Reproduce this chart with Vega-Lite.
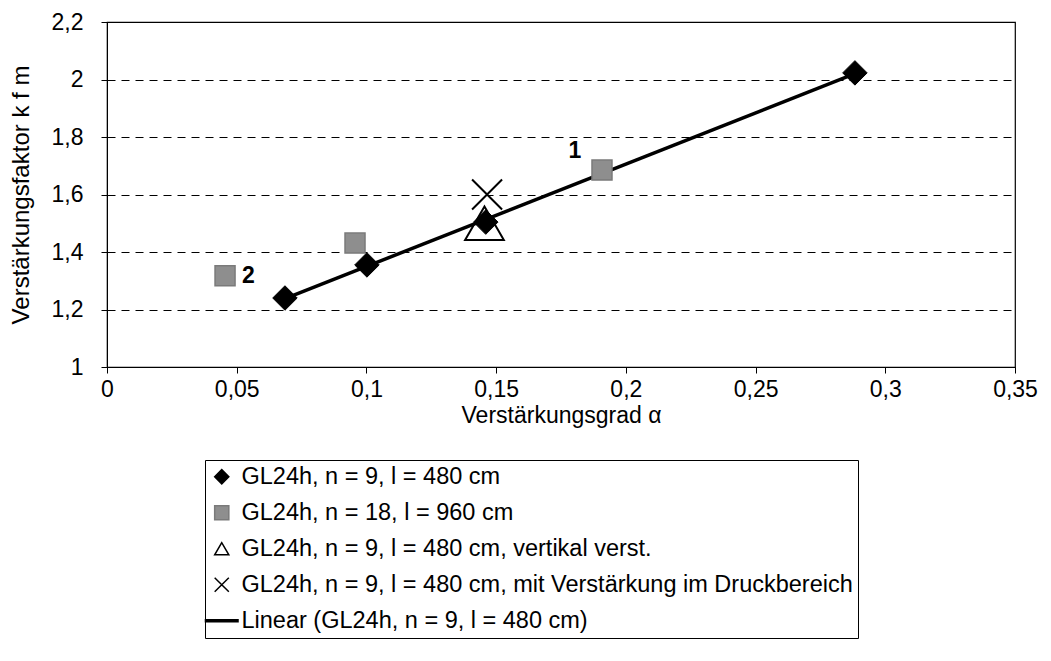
{
  "$schema": "https://vega.github.io/schema/vega-lite/v6.json",
  "width": 908,
  "height": 345,
  "autosize": {"type": "none"},
  "padding": {"left": 107, "top": 22, "right": 36, "bottom": 294},
  "background": "white",
  "config": {
    "font": "Liberation Sans",
    "view": {"stroke": "black", "strokeWidth": 1.2},
    "axis": {
      "domainColor": "black",
      "tickColor": "black",
      "labelColor": "black",
      "titleColor": "black",
      "labelFont": "Liberation Sans",
      "titleFont": "Liberation Sans",
      "labelFontSize": 23,
      "titleFontSize": 23,
      "titleFontWeight": "normal",
      "tickSize": 6
    },
    "legend": {
      "orient": "none",
      "legendX": 98,
      "legendY": 438,
      "direction": "vertical",
      "labelFont": "Liberation Sans",
      "labelFontSize": 23.5,
      "labelColor": "black",
      "labelLimit": 0,
      "symbolSize": 200,
      "symbolStrokeWidth": 1.5,
      "rowPadding": 11,
      "padding": 5,
      "labelOffset": 8,
      "strokeColor": "black",
      "fillColor": "white"
    }
  },
  "datasets": {
    "pts": [
      {"series": "GL24h, n = 9, l = 480 cm", "x": 0.0686, "y": 1.24},
      {"series": "GL24h, n = 9, l = 480 cm", "x": 0.1002, "y": 1.355},
      {"series": "GL24h, n = 9, l = 480 cm", "x": 0.146, "y": 1.504},
      {"series": "GL24h, n = 9, l = 480 cm", "x": 0.2883, "y": 2.023},
      {"series": "GL24h, n = 18, l = 960 cm", "x": 0.0455, "y": 1.317},
      {"series": "GL24h, n = 18, l = 960 cm", "x": 0.0956, "y": 1.431},
      {"series": "GL24h, n = 18, l = 960 cm", "x": 0.1908, "y": 1.685},
      {"series": "GL24h, n = 9, l = 480 cm, vertikal verst.", "x": 0.1455, "y": 1.5},
      {"series": "GL24h, n = 9, l = 480 cm, mit Verstärkung im Druckbereich", "x": 0.1465, "y": 1.6}
    ],
    "labels": [
      {"x": 0.1804, "y": 1.75, "label": "1"},
      {"x": 0.0545, "y": 1.317, "label": "2"}
    ]
  },
  "layer": [
    {
      "data": {"name": "pts"},
      "transform": [
        {"filter": "datum.series == 'GL24h, n = 9, l = 480 cm'"},
        {"regression": "y", "on": "x"}
      ],
      "mark": {"type": "line", "color": "black", "strokeWidth": 3.5},
      "encoding": {
        "x": {
          "field": "x",
          "type": "quantitative",
          "scale": {"domain": [0, 0.35], "nice": false, "zero": false},
          "axis": {
            "title": "Verstärkungsgrad α",
            "values": [0, 0.05, 0.1, 0.15, 0.2, 0.25, 0.3, 0.35],
            "labelExpr": "replace(format(datum.value, '~g'), '.', ',')",
            "grid": false,
            "labelPadding": 5,
            "titlePadding": 3,
            "labelFlush": false
          }
        },
        "y": {
          "field": "y",
          "type": "quantitative",
          "scale": {"domain": [1, 2.2], "nice": false, "zero": false},
          "axis": {
            "title": "Verstärkungsfaktor k f m",
            "titleFontSize": 24,
            "values": [1, 1.2, 1.4, 1.6, 1.8, 2, 2.2],
            "labelExpr": "replace(format(datum.value, '~g'), '.', ',')",
            "grid": true,
            "gridColor": "black",
            "gridDash": [8, 6],
            "gridWidth": 1,
            "gridOpacity": 1,
            "labelPadding": 18,
            "titlePadding": 18,
            "labelFlush": false
          }
        }
      }
    },
    {
      "data": {"name": "pts"},
      "transform": [{"filter": "datum.series == 'GL24h, n = 18, l = 960 cm'"}],
      "mark": {"type": "point", "size": 400, "strokeWidth": 1.5, "opacity": 1},
      "encoding": {
        "x": {"field": "x", "type": "quantitative"},
        "y": {"field": "y", "type": "quantitative"},
        "shape": {
          "field": "series", "type": "nominal",
          "scale": {
            "domain": ["GL24h, n = 9, l = 480 cm", "GL24h, n = 18, l = 960 cm", "GL24h, n = 9, l = 480 cm, vertikal verst.", "GL24h, n = 9, l = 480 cm, mit Verstärkung im Druckbereich", "Linear (GL24h, n = 9, l = 480 cm)"],
            "range": ["diamond", "square", "triangle-up", "M-1,-1L1,1M-1,1L1,-1", "M-2.3,-0.15H2.3V0.15H-2.3Z"]
          },
          "legend": {"title": null}
        },
        "fill": {
          "field": "series", "type": "nominal",
          "scale": {
            "domain": ["GL24h, n = 9, l = 480 cm", "GL24h, n = 18, l = 960 cm", "GL24h, n = 9, l = 480 cm, vertikal verst.", "GL24h, n = 9, l = 480 cm, mit Verstärkung im Druckbereich", "Linear (GL24h, n = 9, l = 480 cm)"],
            "range": ["black", "#8e8e8e", "transparent", "transparent", "black"]
          },
          "legend": {"title": null}
        },
        "stroke": {
          "field": "series", "type": "nominal",
          "scale": {
            "domain": ["GL24h, n = 9, l = 480 cm", "GL24h, n = 18, l = 960 cm", "GL24h, n = 9, l = 480 cm, vertikal verst.", "GL24h, n = 9, l = 480 cm, mit Verstärkung im Druckbereich", "Linear (GL24h, n = 9, l = 480 cm)"],
            "range": ["black", "#7a7a7a", "black", "black", "black"]
          },
          "legend": {"title": null}
        }
      }
    },
    {
      "data": {"name": "pts"},
      "transform": [{"filter": "datum.series == 'GL24h, n = 9, l = 480 cm, vertikal verst.'"}],
      "mark": {"type": "point", "size": 1500, "strokeWidth": 2, "opacity": 1},
      "encoding": {
        "x": {"field": "x", "type": "quantitative"},
        "y": {"field": "y", "type": "quantitative"},
        "shape": {"field": "series", "type": "nominal", "legend": {"title": null}},
        "fill": {"field": "series", "type": "nominal", "legend": {"title": null}},
        "stroke": {"field": "series", "type": "nominal", "legend": {"title": null}}
      }
    },
    {
      "data": {"name": "pts"},
      "transform": [{"filter": "datum.series == 'GL24h, n = 9, l = 480 cm, mit Verstärkung im Druckbereich'"}],
      "mark": {"type": "point", "size": 900, "strokeWidth": 2, "opacity": 1},
      "encoding": {
        "x": {"field": "x", "type": "quantitative"},
        "y": {"field": "y", "type": "quantitative"},
        "shape": {"field": "series", "type": "nominal", "legend": {"title": null}},
        "fill": {"field": "series", "type": "nominal", "legend": {"title": null}},
        "stroke": {"field": "series", "type": "nominal", "legend": {"title": null}}
      }
    },
    {
      "data": {"name": "pts"},
      "transform": [{"filter": "datum.series == 'GL24h, n = 9, l = 480 cm'"}],
      "mark": {"type": "point", "size": 600, "strokeWidth": 1, "opacity": 1},
      "encoding": {
        "x": {"field": "x", "type": "quantitative"},
        "y": {"field": "y", "type": "quantitative"},
        "shape": {"field": "series", "type": "nominal", "legend": {"title": null}},
        "fill": {"field": "series", "type": "nominal", "legend": {"title": null}},
        "stroke": {"field": "series", "type": "nominal", "legend": {"title": null}}
      }
    },
    {
      "data": {"name": "labels"},
      "mark": {"type": "text", "font": "Liberation Sans", "fontSize": 23, "fontWeight": "bold", "color": "black", "align": "center", "baseline": "middle"},
      "encoding": {
        "x": {"field": "x", "type": "quantitative"},
        "y": {"field": "y", "type": "quantitative"},
        "text": {"field": "label", "type": "nominal"}
      }
    }
  ]
}
